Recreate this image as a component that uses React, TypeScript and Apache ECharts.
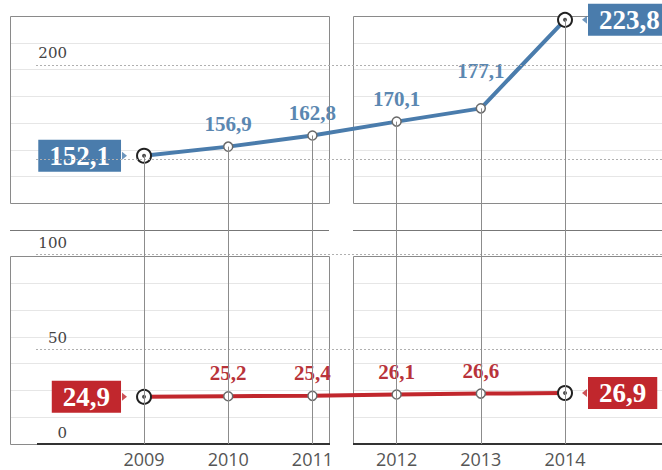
import React, { useEffect, useRef } from "react";
import * as echarts from "echarts";

const years = [2009, 2010, 2011, 2012, 2013, 2014];
const blueValues = [152.1, 156.9, 162.8, 170.1, 177.1, 223.8];
const redValues = [24.9, 25.2, 25.4, 26.1, 26.6, 26.9];
const yLabelValues = [0, 50, 100, 200];
const dottedLevels = [50, 100, 150, 200];

const BLUE = "#4a7cac";
const BLUE_TEXT = "#5b87b1";
const RED = "#c1272d";
const RED_TEXT = "#b8333a";
const SERIF = "Liberation Serif";

const fmt = (v: number) => v.toFixed(1).replace(".", ",");

function buildItems(values: number[], color: string, textColor: string) {
  const n = values.length;
  return values.map((v, i) => {
    const first = i === 0;
    const last = i === n - 1;
    const end = first || last;
    return {
      value: [years[i], v],
      symbolSize: end ? 14 : 9,
      itemStyle: end
        ? { color: "#fff", borderColor: "#222", borderWidth: 2 }
        : { color: "#fff", borderColor: "#6a6a6a", borderWidth: 1.5 },
      label: end
        ? {
            show: true,
            position: first ? "left" : "right",
            distance: 15,
            backgroundColor: color,
            color: "#fff",
            fontSize: 27,
            fontWeight: "bold",
            fontFamily: SERIF,
            lineHeight: 30,
            padding: [2, 11, 0, 11],
          }
        : {
            show: true,
            position: "top",
            distance: color === BLUE && i === 4 ? 22 : 7,
            color: textColor,
            fontSize: 21,
            fontWeight: "bold",
            fontFamily: SERIF,
          },
    };
  });
}

function endPoints(values: number[]) {
  const n = values.length;
  return [
    [years[0], values[0]],
    [years[n - 1], values[n - 1]],
  ];
}

function arrowItems(values: number[]) {
  const n = values.length;
  return [
    { value: [years[0], values[0]], symbolRotate: -90, symbolOffset: [-19.5, 0] },
    { value: [years[n - 1], values[n - 1]], symbolRotate: 90, symbolOffset: [19.5, 0] },
  ];
}

function frameGraphics() {
  const els: any[] = [];
  const boxes = [
    { x1: 10, x2: 329, y1: 16, y2: 203 },
    { x1: 353, x2: 670, y1: 16, y2: 203 },
    { x1: 10, x2: 329, y1: 256, y2: 444 },
    { x1: 353, x2: 670, y1: 256, y2: 444 },
  ];
  boxes.forEach((b) => {
    const step = (b.y2 - b.y1) / 7;
    for (let k = 1; k < 7; k++) {
      const y = Math.round(b.y1 + k * step) + 0.5;
      els.push({
        type: "line",
        z: 0,
        silent: true,
        shape: { x1: b.x1, y1: y, x2: b.x2, y2: y },
        style: { stroke: "#e6e6e6", lineWidth: 1 },
      });
    }
    els.push({
      type: "rect",
      z: 0,
      silent: true,
      shape: { x: b.x1 + 0.5, y: b.y1 + 0.5, width: b.x2 - b.x1, height: b.y2 - b.y1 },
      style: { fill: "none", stroke: "#8a8a8a", lineWidth: 1 },
    });
  });
  els.push({
    type: "line", z: 0, silent: true,
    shape: { x1: 10, y1: 230.5, x2: 329, y2: 230.5 },
    style: { stroke: "#777", lineWidth: 1 },
  });
  els.push({
    type: "line", z: 0, silent: true,
    shape: { x1: 353, y1: 230.5, x2: 662, y2: 230.5 },
    style: { stroke: "#777", lineWidth: 1 },
  });
  els.push({
    type: "line", z: 1, silent: true,
    shape: { x1: 37, y1: 444, x2: 330, y2: 444 },
    style: { stroke: "#333", lineWidth: 2 },
  });
  els.push({
    type: "line", z: 1, silent: true,
    shape: { x1: 353, y1: 444, x2: 662, y2: 444 },
    style: { stroke: "#333", lineWidth: 2 },
  });
  return els;
}

export default function App() {
  const ref = useRef<HTMLDivElement>(null);
  useEffect(() => {
    if (!ref.current) return;
    const chart = echarts.init(ref.current, null, { renderer: "svg" });
    const option: any = {
      animation: false,
      backgroundColor: "#fff",
      graphic: frameGraphics(),
      grid: { left: 36, right: 0, top: 17, bottom: 26 },
      xAxis: {
        type: "value",
        min: 2007.717,
        max: 2015.152,
        axisLine: { show: false },
        axisTick: { show: false },
        splitLine: { show: false },
        axisLabel: {
          customValues: years,
          formatter: (v: number) => String(v),
          margin: 5,
          fontSize: 18,
          lineHeight: 19,
          fontFamily: "Open Sans",
          color: "#555",
        },
      },
      yAxis: {
        type: "value",
        min: 0,
        max: 225.3,
        axisLine: { show: false },
        axisTick: { show: false },
        splitLine: { show: false },
        axisLabel: {
          customValues: yLabelValues,
          inside: true,
          align: "right",
          verticalAlign: "bottom",
          margin: 31,
          padding: [0, 0, 4, 0],
          fontSize: 15,
          fontFamily: "DejaVu Serif",
          color: "#444",
        },
      },
      series: [
        {
          type: "line",
          data: [],
          silent: true,
          z: 1,
          markLine: {
            silent: true,
            symbol: ["none", "none"],
            label: { show: false },
            lineStyle: { color: "#b0b0b0", width: 1, type: [2, 2] },
            data: dottedLevels.map((v) => ({ yAxis: v })),
          },
        },
        {
          type: "line",
          data: [],
          silent: true,
          z: 1,
          markLine: {
            silent: true,
            symbol: ["none", "none"],
            label: { show: false },
            lineStyle: { color: "#8c8c8c", width: 1, type: "solid" },
            data: years.map((y, i) => [
              { coord: [y, blueValues[i]] },
              { coord: [y, 0] },
            ]),
          },
        },
        {
          name: "blue",
          type: "line",
          z: 3,
          symbol: "circle",
          lineStyle: { color: BLUE, width: 4 },
          label: { formatter: (p: any) => fmt(p.value[1]) },
          data: buildItems(blueValues, BLUE, BLUE_TEXT),
        },
        {
          name: "red",
          type: "line",
          z: 3,
          symbol: "circle",
          lineStyle: { color: RED, width: 4 },
          label: { formatter: (p: any) => fmt(p.value[1]) },
          data: buildItems(redValues, RED, RED_TEXT),
        },
        {
          type: "scatter",
          z: 4,
          silent: true,
          symbolSize: 4,
          itemStyle: { color: "#222" },
          data: [...endPoints(blueValues), ...endPoints(redValues)],
        },
        {
          type: "scatter",
          z: 4,
          silent: true,
          symbol: "triangle",
          symbolSize: [8, 5],
          itemStyle: { color: BLUE },
          data: arrowItems(blueValues),
        },
        {
          type: "scatter",
          z: 4,
          silent: true,
          symbol: "triangle",
          symbolSize: [8, 5],
          itemStyle: { color: RED },
          data: arrowItems(redValues),
        },
      ],
    };
    chart.setOption(option);
    return () => chart.dispose();
  }, []);
  return (
    <div
      ref={ref}
      style={{ position: "fixed", left: 0, top: 0, width: 662, height: 470, background: "#fff" }}
    />
  );
}
